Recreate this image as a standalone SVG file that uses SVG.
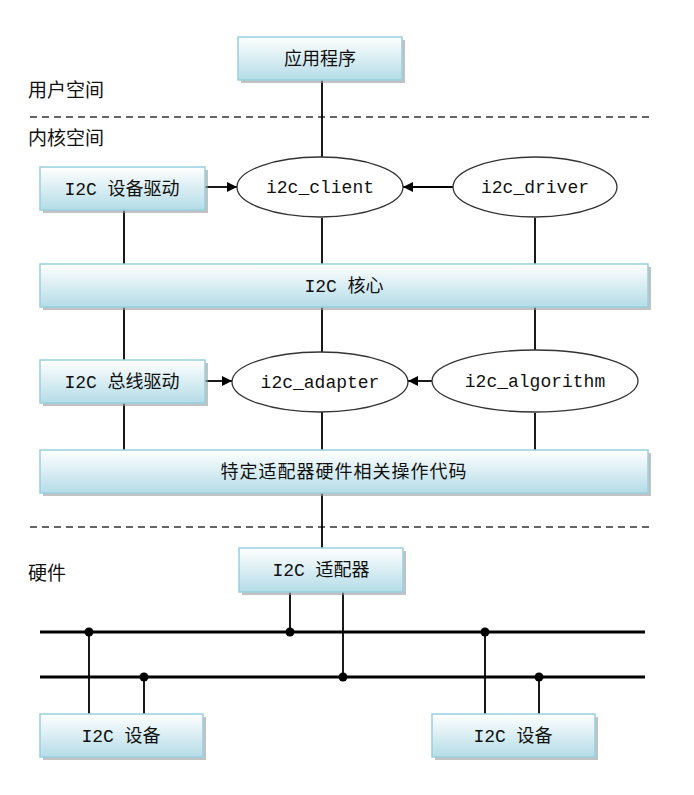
<svg xmlns="http://www.w3.org/2000/svg" width="694" height="795" viewBox="0 0 694 795">
<defs>
<linearGradient id="g" x1="0" y1="0" x2="0" y2="1">
<stop offset="0" stop-color="#ffffff"/>
<stop offset="1" stop-color="#b4dce7"/>
</linearGradient>
<marker id="ah" viewBox="0 0 10 10" refX="10" refY="5" markerWidth="10" markerHeight="10" markerUnits="userSpaceOnUse" orient="auto">
<path d="M0,0 L10,5 L0,10 Z" fill="#000"/>
</marker>
<style>
.box{fill:url(#g);stroke:#98d0df;stroke-width:1.5}
.sh{fill:#9a9a9a;opacity:0.6}
.ell{fill:#fff;stroke:#333;stroke-width:1.3}
.t{font-family:"Liberation Mono","Noto Sans CJK SC",monospace;font-size:18px;fill:#111;text-anchor:middle}
.m{font-family:"Liberation Mono","Noto Sans CJK SC",monospace;font-size:18px;fill:#111;text-anchor:middle}
.z{font-family:"Noto Sans CJK SC",sans-serif;font-size:19px;fill:#111}
.ln{stroke:#000;stroke-width:1.8;fill:none}
.bus{stroke:#000;stroke-width:3;fill:none}
.dash{stroke:#333;stroke-width:1.5;stroke-dasharray:7,5;fill:none}
</style>
</defs>
<rect width="694" height="795" fill="#fff"/>

<g id="labels">
<text class="z" x="28" y="97">用户空间</text>
<text class="z" x="28" y="145">内核空间</text>
<text class="z" x="28" y="580">硬件</text>
<line class="dash" x1="30" y1="117" x2="652" y2="117"/>
<line class="dash" x1="30" y1="527" x2="652" y2="527"/>
</g>

<g id="connectors">
<line class="ln" x1="322" y1="80" x2="322" y2="157"/>
<line class="ln" x1="205" y1="187" x2="237" y2="187" marker-end="url(#ah)"/>
<line class="ln" x1="453" y1="187" x2="403" y2="187" marker-end="url(#ah)"/>
<line class="ln" x1="124" y1="210" x2="124" y2="264"/>
<line class="ln" x1="322" y1="218" x2="322" y2="264"/>
<line class="ln" x1="535" y1="218" x2="535" y2="264"/>
<line class="ln" x1="124" y1="307" x2="124" y2="360"/>
<line class="ln" x1="322" y1="307" x2="322" y2="352"/>
<line class="ln" x1="535" y1="307" x2="535" y2="350"/>
<line class="ln" x1="205" y1="381" x2="232" y2="381" marker-end="url(#ah)"/>
<line class="ln" x1="432" y1="381" x2="408" y2="381" marker-end="url(#ah)"/>
<line class="ln" x1="124" y1="403" x2="124" y2="450"/>
<line class="ln" x1="322" y1="412" x2="322" y2="450"/>
<line class="ln" x1="535" y1="413" x2="535" y2="450"/>
<line class="ln" x1="322" y1="493" x2="322" y2="548"/>
<line class="bus" x1="40" y1="632" x2="645" y2="632"/>
<line class="bus" x1="40" y1="677" x2="645" y2="677"/>
<line class="ln" x1="290" y1="592" x2="290" y2="632"/>
<line class="ln" x1="343" y1="592" x2="343" y2="677"/>
<line class="ln" x1="89" y1="632" x2="89" y2="714"/>
<line class="ln" x1="144" y1="677" x2="144" y2="714"/>
<line class="ln" x1="485" y1="632" x2="485" y2="714"/>
<line class="ln" x1="539" y1="677" x2="539" y2="714"/>
<circle cx="290" cy="632" r="4.5"/>
<circle cx="343" cy="677" r="4.5"/>
<circle cx="89" cy="632" r="4.5"/>
<circle cx="144" cy="677" r="4.5"/>
<circle cx="485" cy="632" r="4.5"/>
<circle cx="539" cy="677" r="4.5"/>
</g>

<g id="app">
<rect class="sh" x="241" y="40" width="164" height="43"/>
<rect class="box" x="238" y="37" width="164" height="43"/>
<text class="t" x="320" y="65">应用程序</text>
</g>

<g id="dev-driver">
<rect class="sh" x="43" y="170" width="165" height="43"/>
<rect class="box" x="40" y="167" width="165" height="43"/>
<text class="t" x="122" y="195">I2C 设备驱动</text>
</g>

<g id="i2c_client">
<ellipse class="ell" cx="320" cy="187" rx="83" ry="30"/>
<text class="m" x="320" y="193">i2c_client</text>
</g>

<g id="i2c_driver">
<ellipse class="ell" cx="535" cy="187" rx="82" ry="30"/>
<text class="m" x="535" y="193">i2c_driver</text>
</g>

<g id="core">
<rect class="sh" x="43" y="267" width="608" height="43"/>
<rect class="box" x="40" y="264" width="608" height="43"/>
<text class="t" x="344" y="292">I2C 核心</text>
</g>

<g id="bus-driver">
<rect class="sh" x="43" y="363" width="165" height="43"/>
<rect class="box" x="40" y="360" width="165" height="43"/>
<text class="t" x="122" y="388">I2C 总线驱动</text>
</g>

<g id="i2c_adapter">
<ellipse class="ell" cx="320" cy="382" rx="88" ry="30"/>
<text class="m" x="320" y="388">i2c_adapter</text>
</g>

<g id="i2c_algorithm">
<ellipse class="ell" cx="535" cy="381" rx="103" ry="31"/>
<text class="m" x="535" y="387">i2c_algorithm</text>
</g>

<g id="hw-code">
<rect class="sh" x="43" y="453" width="608" height="43"/>
<rect class="box" x="40" y="450" width="608" height="43"/>
<text class="t" x="344" y="478" style="letter-spacing:1px">特定适配器硬件相关操作代码</text>
</g>

<g id="adapter-hw">
<rect class="sh" x="242" y="551" width="164" height="44"/>
<rect class="box" x="239" y="548" width="164" height="44"/>
<text class="t" x="321" y="576">I2C 适配器</text>
</g>

<g id="dev1">
<rect class="sh" x="43" y="717" width="163" height="43"/>
<rect class="box" x="40" y="714" width="163" height="43"/>
<text class="t" x="121" y="742">I2C 设备</text>
</g>

<g id="dev2">
<rect class="sh" x="435" y="717" width="163" height="43"/>
<rect class="box" x="432" y="714" width="163" height="43"/>
<text class="t" x="513" y="742">I2C 设备</text>
</g>
</svg>
